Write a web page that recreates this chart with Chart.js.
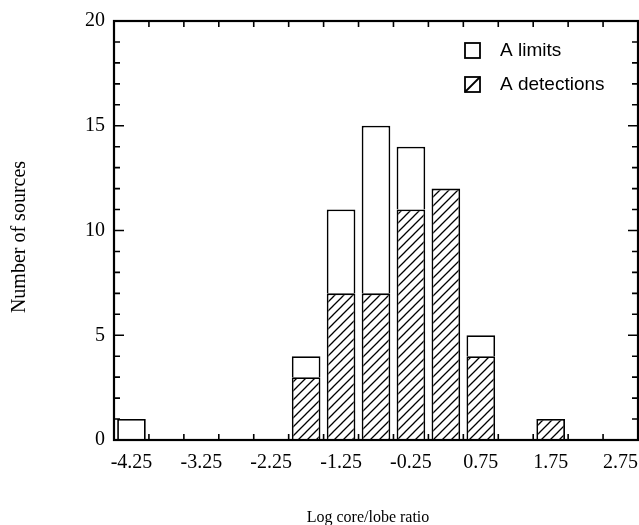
<!DOCTYPE html>
<html>
<head>
<meta charset="utf-8">
<script src="https://cdn.jsdelivr.net/npm/chart.js@4.4.1/dist/chart.umd.min.js"></script>
<style>
  body { margin: 0; background: #fff; }
  canvas { display: block; }
</style>
</head>
<body>
<canvas id="hist" width="639" height="525"></canvas>
<script>
// histogram bins (centres), counts per bin
const binCenters = [-4.25, -3.75, -3.25, -2.75, -2.25, -1.75, -1.25, -0.75, -0.25, 0.25, 0.75, 1.25, 1.75, 2.25, 2.75];
const detections = [0, 0, 0, 0, 0, 3, 7, 7, 11, 12, 4, 0, 1, 0, 0];
const limits     = [1, 0, 0, 0, 0, 1, 4, 8, 3, 0, 1, 0, 0, 0, 0];

const xTickLabels = [-4.25, -3.25, -2.25, -1.25, -0.25, 0.75, 1.75, 2.75];
const binEdges = [-4.0, -3.5, -3.0, -2.5, -2.0, -1.5, -1.0, -0.5, 0.0, 0.5, 1.0, 1.5, 2.0, 2.5];
const yMajor = [0, 5, 10, 15, 20];
const yMinor = [1, 2, 3, 4, 6, 7, 8, 9, 11, 12, 13, 14, 16, 17, 18, 19];

const serif = 'Liberation Serif, Times New Roman, serif';
const sans = 'Liberation Sans, Arial, sans-serif';

const canvas = document.getElementById('hist');
const ctx = canvas.getContext('2d');

// diagonal hatch fill for the detections
function makeHatch() {
  const s = 9;
  const c = document.createElement('canvas');
  c.width = s; c.height = s;
  const g = c.getContext('2d');
  g.fillStyle = '#fff';
  g.fillRect(0, 0, s, s);
  g.strokeStyle = '#000';
  g.lineWidth = 1.3;
  g.beginPath();
  g.moveTo(-1, s + 1); g.lineTo(s + 1, -1);
  g.moveTo(-1, 1); g.lineTo(1, -1);
  g.moveTo(s - 1, s + 1); g.lineTo(s + 1, s - 1);
  g.stroke();
  return ctx.createPattern(c, 'repeat');
}
const hatch = makeHatch();

const toPoints = arr => arr.map((v, i) => ({ x: binCenters[i], y: v }));

// box, inward ticks, titles and the legend
const framePlugin = {
  id: 'frame',
  afterDatasetsDraw(chart) {
    const { ctx, chartArea: a, scales: { x, y } } = chart;
    ctx.save();
    ctx.strokeStyle = '#000';
    ctx.lineWidth = 1.6;
    ctx.beginPath();
    binEdges.forEach(v => {
      const px = x.getPixelForValue(v);
      ctx.moveTo(px, a.bottom); ctx.lineTo(px, a.bottom - 6);
      ctx.moveTo(px, a.top); ctx.lineTo(px, a.top + 6);
    });
    yMinor.forEach(v => {
      const py = y.getPixelForValue(v);
      ctx.moveTo(a.left, py); ctx.lineTo(a.left + 6, py);
      ctx.moveTo(a.right, py); ctx.lineTo(a.right - 6, py);
    });
    yMajor.forEach(v => {
      const py = y.getPixelForValue(v);
      ctx.moveTo(a.left, py); ctx.lineTo(a.left + 10, py);
      ctx.moveTo(a.right, py); ctx.lineTo(a.right - 10, py);
    });
    ctx.stroke();
    ctx.lineWidth = 2.2;
    ctx.strokeRect(a.left, a.top, a.right - a.left, a.bottom - a.top);
    ctx.restore();
  },
  afterDraw(chart) {
    const { ctx } = chart;
    ctx.save();
    ctx.fillStyle = '#000';
    // axis titles
    ctx.font = '16px ' + serif;
    ctx.textAlign = 'center';
    ctx.textBaseline = 'alphabetic';
    ctx.fillText('Log core/lobe ratio', 368, 522);
    ctx.translate(25, 237);
    ctx.rotate(-Math.PI / 2);
    ctx.font = '20px ' + serif;
    ctx.fillText('Number of sources', 0, 0);
    ctx.restore();

    // legend, limits first; the detections key carries a single slash
    const items = [chart.data.datasets[1], chart.data.datasets[0]];
    ctx.save();
    ctx.font = '19px ' + sans;
    ctx.textBaseline = 'middle';
    ctx.textAlign = 'left';
    ctx.strokeStyle = '#000';
    ctx.lineWidth = 1.8;
    items.forEach((ds, i) => {
      const cy = 50 + i * 34;
      const bx = 465, by = cy - 7, bs = 15;
      ctx.fillStyle = '#fff';
      ctx.fillRect(bx, by, bs, bs);
      ctx.strokeRect(bx, by, bs, bs);
      if (ds.backgroundColor !== '#fff') {
        ctx.beginPath();
        ctx.moveTo(bx, by + bs);
        ctx.lineTo(bx + bs, by);
        ctx.stroke();
      }
      ctx.fillStyle = '#000';
      ctx.fillText(ds.label, 500, cy + 1);
    });
    ctx.restore();
  }
};

new Chart(ctx, {
  type: 'bar',
  data: {
    datasets: [{
      label: 'A detections',
      data: toPoints(detections),
      backgroundColor: hatch,
      borderColor: '#000',
      borderWidth: 1.8,
      stack: 'src'
    }, {
      label: 'A limits',
      data: toPoints(limits),
      backgroundColor: '#fff',
      borderColor: '#000',
      borderWidth: 1.8,
      stack: 'src'
    }]
  },
  options: {
    responsive: false,
    animation: false,
    barPercentage: 0.82,
    categoryPercentage: 1.0,
    layout: { padding: { top: 16, right: 1, left: 0, bottom: 0 } },
    plugins: { legend: { display: false }, tooltip: { enabled: false } },
    scales: {
      x: {
        type: 'linear',
        min: -4.5,
        max: 3.0,
        offset: false,
        stacked: true,
        grid: { display: false, drawTicks: false },
        border: { display: false },
        afterBuildTicks: scale => { scale.ticks = xTickLabels.map(v => ({ value: v })); },
        afterFit: scale => {
          scale.height = 85;
          scale.paddingLeft = 0;
          scale.paddingRight = 0;
        },
        ticks: {
          color: '#000',
          padding: 11,
          maxRotation: 0,
          autoSkip: false,
          font: { family: serif, size: 20 },
          callback: v => v.toFixed(2)
        }
      },
      y: {
        min: 0,
        max: 20,
        stacked: true,
        grid: { display: false, drawTicks: false },
        border: { display: false },
        afterBuildTicks: scale => { scale.ticks = yMajor.map(v => ({ value: v })); },
        afterFit: scale => { scale.width = 114; },
        ticks: {
          color: '#000',
          padding: 9,
          font: { family: serif, size: 20 }
        }
      }
    }
  },
  plugins: [framePlugin]
});
</script>
</body>
</html>
